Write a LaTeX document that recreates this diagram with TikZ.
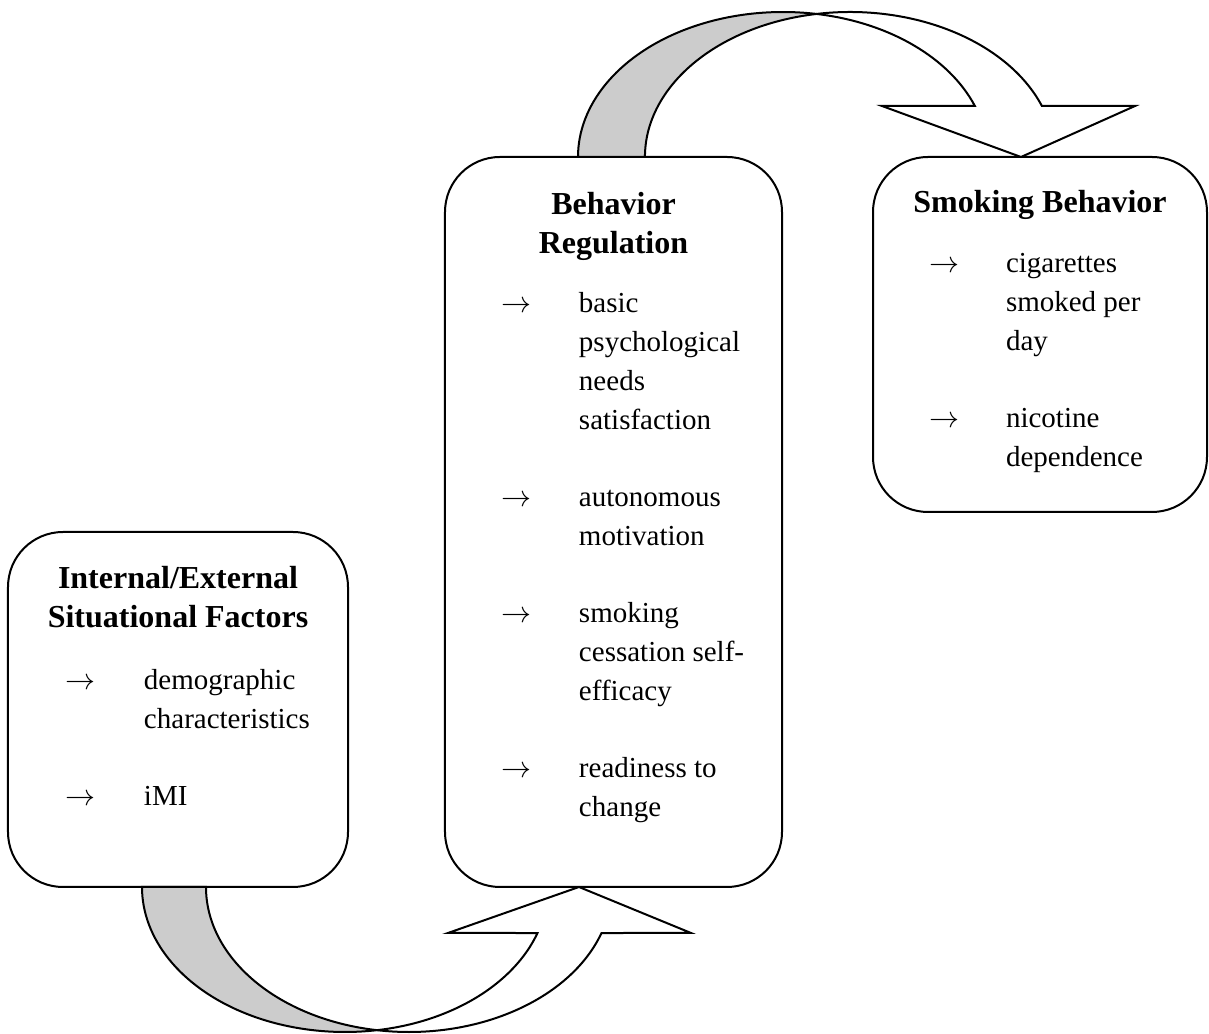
\documentclass[tikz,border=0pt]{standalone}
\usepackage{fontspec}
\setmainfont{Liberation Serif}
\usetikzlibrary{calc}

\begin{document}
\begin{tikzpicture}[x=0.4pt,y=0.4pt,line width=0.8pt,
    box/.style={draw,rounded corners=22pt,inner sep=0pt,outer sep=0pt},
    heading/.style={font=\bfseries\fontsize{12.8pt}{15.6pt}\selectfont,text width=132pt,align=flush center,inner sep=0pt,anchor=base},
    pointer/.style={font=\fontsize{11.6pt}{15.52pt}\selectfont,inner sep=0pt,anchor=base west},
    entry/.style={font=\fontsize{11.6pt}{15.52pt}\selectfont,text width=70pt,align=flush left,inner sep=0pt,anchor=base west},
    back/.style={draw,fill=black!20},
    front/.style={draw,fill=white}]
\useasboundingbox (0,0) rectangle (1209,1034);

% the three boxes
\node[box,minimum width=136pt,minimum height=142pt] (factors) at (178,324.5) {};
\node[box,minimum width=134.8pt,minimum height=292pt] (regulation) at (613.5,512) {};
\node[box,minimum width=133.6pt,minimum height=142pt] (smoking) at (1040,699.5) {};

% left box
\node[heading] (factorshead) at ($(factors.north)+(0,-57)$) {Internal/External\\Situational Factors};
\node[pointer] (fa1) at ($(factors.north west)+(57,-158)$) {$\rightarrow$};
\node[entry] (demo) at ($(factors.north west)+(135,-158)$) {demographic\\characteristics};
\node[pointer] (fa2) at ($(factors.north west)+(57,-274)$) {$\rightarrow$};
\node[entry] (imi) at ($(factors.north west)+(135,-274)$) {iMI};

% middle box
\node[heading] (regulationhead) at ($(regulation.north)+(0,-58)$) {Behavior\\Regulation};
\node[pointer] (ra1) at ($(regulation.north west)+(55,-156)$) {$\rightarrow$};
\node[entry] (needs) at ($(regulation.north west)+(133,-156)$) {basic\\psychological\\needs\\satisfaction};
\node[pointer] (ra2) at ($(regulation.north west)+(55,-350)$) {$\rightarrow$};
\node[entry] (motiv) at ($(regulation.north west)+(133,-350)$) {autonomous\\motivation};
\node[pointer] (ra3) at ($(regulation.north west)+(55,-466)$) {$\rightarrow$};
\node[entry] (efficacy) at ($(regulation.north west)+(133,-466)$) {smoking\\cessation self-\\efficacy};
\node[pointer] (ra4) at ($(regulation.north west)+(55,-621)$) {$\rightarrow$};
\node[entry] (ready) at ($(regulation.north west)+(133,-621)$) {readiness to\\change};

% right box
\node[heading] (smokinghead) at ($(smoking.north)+(0,-56)$) {Smoking Behavior};
\node[pointer] (sa1) at ($(smoking.north west)+(55,-116)$) {$\rightarrow$};
\node[entry] (cigs) at ($(smoking.north west)+(132,-116)$) {cigarettes\\smoked per\\day};
\node[pointer] (sa2) at ($(smoking.north west)+(55,-271)$) {$\rightarrow$};
\node[entry] (nicotine) at ($(smoking.north west)+(132,-271)$) {nicotine\\dependence};

% curved arrow under the boxes
\coordinate (la) at (345,147);
\coordinate (lb) at (409,147);
\draw[back] (142,147) arc[start angle=180,end angle=279.07,x radius=203,y radius=145]
    arc[start angle=260.93,end angle=180,x radius=203,y radius=145] -- cycle;
\draw[front] ($(la)+(279.07:203 and 145)$)
    arc[start angle=279.07,end angle=341.5,x radius=203,y radius=145]
    -- (448,101) -- (579,147) -- (691,101) -- ($(lb)+(341.5:203 and 145)$)
    arc[start angle=341.5,end angle=260.93,x radius=203,y radius=145] -- cycle;

% curved arrow over the boxes
\coordinate (ta) at (783,877);
\coordinate (tb) at (850,877);
\draw[back] (578,877) arc[start angle=180,end angle=80.6,x radius=205,y radius=145]
    arc[start angle=99.4,end angle=180,x radius=205,y radius=145] -- cycle;
\draw[front] ($(ta)+(80.6:205 and 145)$)
    arc[start angle=80.6,end angle=20.6,x radius=205,y radius=145]
    -- (882,928) -- (1021,877) -- (1135,928) -- ($(tb)+(20.6:205 and 145)$)
    arc[start angle=20.6,end angle=99.4,x radius=205,y radius=145] -- cycle;
\end{tikzpicture}
\end{document}
